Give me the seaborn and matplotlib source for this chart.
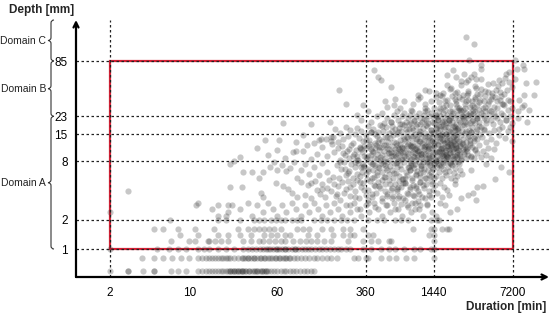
import numpy as np
import pandas as pd
import matplotlib
matplotlib.use("Agg")
import matplotlib.pyplot as plt
from matplotlib.path import Path
from matplotlib.patches import PathPatch, Rectangle
import seaborn as sns

# ---- data (duration [min], depth [mm]) ----
x_ticks = [2, 10, 60, 360, 1440, 7200]
y_ticks = [1, 2, 8, 15, 23, 85]
v_lines = [2, 360, 1440, 7200]
domain_names = ["Domain C", "Domain B", "Domain A"]
domain_edges = [None, 85, 23, 1]   # None = top of the axis
box_duration = (2, 7200)
box_depth = (1, 85)

# quantised rows at small depths: depth -> durations
row_depths = [2.0, 1.6, 1.4, 1.2, 1.0, 0.8, 0.6]
row_durations = [
    [6.7, 18, 21, 28, 37, 41, 46, 53, 58, 64, 70, 80, 90, 96, 125, 145, 165, 190, 217, 245,
     285, 380, 450, 520, 650, 740, 850, 1350, 1550, 1600],
    [4.9, 5.9, 8.0, 11.2, 16.5, 27, 33, 37, 41, 46, 51, 56, 65, 90, 100, 113, 150, 178, 230,
     265, 345, 950, 1350, 1450, 1700, 1900, 1950],
    [8.2, 12, 18, 22, 28, 35, 46, 53, 59, 70, 78, 112, 135, 185, 230, 265, 285, 380, 420,
     1300, 1450],
    [6.9, 10, 11.2, 14.5, 15, 17, 19, 22, 30, 35, 41, 45, 51, 57, 64, 70, 83, 95, 107, 120,
     135, 155, 178, 250, 345, 400, 460, 580, 600, 1450],
    [2, 5.2, 6.6, 8.0, 9.3, 12, 13.5, 15, 18, 21, 25, 30, 33, 36, 39, 42, 45, 48, 52, 55, 58,
     62, 66, 70, 75, 80, 86, 92, 98, 105, 112, 120, 130, 140, 150, 162, 175, 190, 205, 220,
     240, 262, 340, 400, 490, 580, 650, 790, 960, 1100, 1350, 1450, 50, 60, 70, 85],
    [3.8, 4.9, 5.9, 7.0, 8.5, 10, 12, 13, 14, 15, 16, 17, 18, 19, 20, 21, 22, 23, 25, 27, 29,
     31, 33, 35, 37, 40, 43, 46, 50, 54, 58, 62, 67, 72, 78, 84, 90, 97, 105, 115, 125, 135,
     150, 165, 180, 200, 285, 310, 360, 380, 490, 580, 670, 820, 960, 1450,
     30, 33, 37, 42, 47, 52, 57, 63, 70, 76],
    [2, 2.9, 2.9, 3.9, 4.9, 4.9, 6.9, 8.0, 9.3, 12, 13, 14, 15, 16, 17, 18, 19, 20, 21, 22,
     23, 24, 25, 26, 27, 28, 29, 30, 32, 34, 36, 38, 40, 42, 44, 46, 48, 50, 53, 56, 60, 64,
     68, 72, 77, 82, 88, 95, 102, 110, 118, 125, 23, 25, 27, 29, 31, 34, 37, 40, 44, 48],
]

cloud_high = [(2800, 150), (3250, 128), (2950, 88), (7500, 88),
              (8900, 78), (9100, 71), (3750, 78), (3800, 71), (2150, 69), (2650, 63), (3250, 62),
              (1900, 61), (2250, 58), (6300, 63), (5400, 54), (3750, 55), (3100, 58), (2900, 54),
              (7500, 55), (430, 69), (2500, 53), (9400, 51), (11500, 52), (3400, 56), (6700, 66),
              (7800, 71)]

cloud_38_54 = [(1900, 48), (2050, 45), (2500, 48), (2800, 52), (3300, 47), (3750, 44), (4300, 49),
               (4800, 50), (5300, 47), (5800, 50), (6100, 57), (6600, 52), (490, 54), (210, 43),
               (9000, 38), (11000, 38), (600, 46), (1200, 43), (1500, 40), (2300, 41), (2900, 40),
               (3500, 39), (4100, 42), (4700, 40), (5500, 41), (6400, 43), (7000, 46), (1050, 38),
               (1700, 37), (460, 58)]

cloud_27_38 = [(240, 31), (340, 30), (530, 33), (650, 35), (640, 30), (790, 33), (950, 31),
               (1040, 35), (1300, 42), (1100, 36), (1200, 31),
               (1500, 36), (1600, 32), (1750, 29), (1900, 34), (2000, 30), (2100, 37), (2250, 33),
               (2400, 28), (2550, 35), (2700, 31), (2850, 38), (3000, 29), (3150, 33), (3350, 36),
               (3500, 30), (3700, 34), (3900, 28), (4100, 37), (4300, 31), (4600, 35), (4900, 29),
               (5200, 33), (5600, 37), (6000, 30), (6500, 34), (7000, 28), (1450, 28), (1650, 38),
               (2200, 40), (2600, 27), (3200, 27), (4400, 27), (8200, 34), (8600, 29), (10000, 27),
               (9000, 30), (8000, 26), (1800, 27), (2300, 29), (2900, 34), (3600, 32), (4000, 33),
               (5000, 36), (5800, 31), (6800, 33), (1350, 33), (1200, 28), (900, 27), (720, 28),
               (560, 29)]

cloud_19_27 = [(67, 19.5), (120, 19), (175, 20), (300, 24), (330, 21), (380, 26), (400, 20),
               (450, 23), (500, 25), (520, 19.5), (560, 22), (600, 20), (640, 24), (680, 26),
               (700, 21), (720, 19), (760, 23), (790, 25), (820, 20), (850, 22), (880, 24),
               (900, 19.5), (930, 26), (960, 21), (1000, 23), (1030, 19), (1060, 25), (1100, 22),
               (1130, 20), (1170, 24), (1200, 26), (1240, 21), (1280, 19.5), (1320, 23), (1360, 25),
               (1400, 20), (1440, 22), (1480, 24), (1520, 19), (1560, 21), (1600, 26), (1650, 23),
               (1700, 20), (1750, 25), (1800, 22), (1850, 19.5), (1900, 24), (1950, 21), (2000, 26),
               (2050, 23), (2100, 20), (2150, 25), (2200, 22), (2250, 19), (2300, 24), (2400, 21),
               (2500, 26), (2600, 23), (2700, 20), (2800, 25), (2900, 22), (3000, 19.5), (3100, 24),
               (3200, 21), (3350, 26), (3500, 23), (3650, 20), (3800, 25), (4000, 22), (4200, 19.5),
               (4400, 24), (4600, 21), (4900, 25), (5200, 22), (5500, 20), (5900, 24), (6300, 21),
               (6800, 23), (7100, 19.5), (8000, 22), (9500, 20), (1750, 19), (2350, 26.5),
               (1250, 26.5), (1550, 22.5), (2650, 21.5), (3300, 19.5), (4100, 26)]

cloud_12_19 = [(47, 13.2), (140, 13), (145, 13.5), (178, 14),
               (62, 13.0), (88, 12.6), (100, 14.7), (125, 12.2), (160, 13.6), (178, 12.8),
               (185, 14.1), (195, 17.1), (205, 12.4), (215, 15.6), (228, 13.3), (240, 18.0), (252, 14.5),
               (265, 16.8), (278, 12.1), (290, 15.0), (305, 17.5), (318, 13.8), (330, 16.2), (345, 12.7),
               (360, 14.9), (375, 18.4), (390, 13.1), (405, 15.7), (420, 17.0), (435, 12.3), (450, 14.3),
               (465, 16.0), (480, 18.8), (470, 13.5), (440, 15.2),
               (500, 12.9), (515, 16.4), (530, 14.0), (548, 17.9), (565, 12.5), (580, 15.5), (598, 13.7),
               (615, 18.3), (632, 14.8), (650, 16.9), (668, 12.2), (688, 15.1), (706, 17.4), (725, 13.2),
               (745, 16.1), (766, 14.4), (788, 18.6), (810, 12.7), (832, 15.8), (855, 13.9), (878, 17.2),
               (902, 14.6), (926, 12.4), (950, 16.6), (975, 15.0), (1000, 18.1), (1030, 13.4),
               (1060, 16.3), (1090, 12.9), (1120, 14.9), (1150, 17.6), (1180, 13.0), (1210, 15.4),
               (1245, 18.5), (1280, 12.6), (1315, 14.2), (1350, 16.7), (1385, 13.8), (1100, 19.0),
               (870, 19.0),
               (1420, 15.6), (1460, 12.3), (1500, 17.3), (1540, 14.0), (1580, 16.0), (1620, 12.8),
               (1660, 18.4), (1700, 14.7), (1740, 13.1), (1785, 16.9), (1830, 15.2), (1875, 12.5),
               (1920, 17.8), (1965, 13.9), (2010, 15.8), (2060, 12.2), (2110, 18.0), (2160, 14.4),
               (2210, 16.5), (2265, 13.3), (2320, 15.0), (2375, 17.4), (2430, 12.7), (2490, 14.8),
               (2550, 16.2), (2610, 13.6), (2670, 18.7), (2735, 15.4), (2800, 12.4), (2870, 14.2),
               (2940, 16.8), (3010, 13.0), (3080, 15.9), (3160, 17.7), (3240, 12.9), (3320, 14.6),
               (3400, 16.4), (3490, 13.5), (3580, 18.2), (3670, 15.1), (1640, 14.9), (1900, 13.2),
               (2200, 12.0), (2550, 18.9), (3000, 12.1),
               (3850, 14.0), (4000, 17.0), (4200, 12.6), (4400, 15.5), (4650, 13.4), (4900, 16.8),
               (5150, 12.3), (5450, 14.8), (5750, 18.0), (6100, 13.7), (6500, 16.2), (7000, 12.9)]

cloud_8_12 = [(28, 8.7), (40, 10.9), (60, 10.4), (82, 10.0), (87, 10.2), (100, 10.2), (183, 12.0),
              (120, 8.4), (135, 9.5), (150, 11.1), (165, 8.9), (110, 11.7), (70, 8.6), (50, 9.3),
              (190, 9.8),
              (205, 10.8), (215, 8.2), (225, 11.4), (235, 9.2), (245, 10.1), (258, 8.6), (270, 11.7),
              (282, 9.5), (295, 10.4), (308, 8.1), (320, 11.1), (333, 9.8), (346, 8.9), (360, 10.8),
              (373, 8.4), (386, 11.4), (400, 9.2), (414, 10.1), (428, 8.6), (442, 11.7), (456, 9.5),
              (470, 10.4), (484, 8.1), (300, 9.0), (330, 10.6), (360, 8.7), (395, 11.9), (420, 9.9),
              (450, 8.3), (475, 11.2), (255, 10.5), (280, 8.9), (230, 9.6), (350, 11.5), (405, 10.7),
              (495, 11.1), (505, 9.3), (520, 10.2), (535, 8.5), (550, 11.6), (565, 9.7), (580, 10.6),
              (596, 8.2), (612, 11.3), (628, 9.0), (645, 10.0), (662, 8.7), (680, 11.8), (698, 9.4),
              (716, 10.5), (735, 8.3), (754, 11.0), (774, 9.6), (794, 10.9), (815, 8.6), (836, 11.5),
              (858, 9.1), (880, 10.3), (903, 8.4), (927, 11.2), (950, 9.8), (975, 10.7), (1000, 8.1),
              (1025, 11.6), (1050, 9.3), (1078, 10.1), (1105, 8.8), (1133, 11.3), (1162, 9.6),
              (1192, 10.5), (1222, 8.5), (1253, 11.8), (1285, 9.2), (1318, 10.9), (1352, 8.2),
              (1385, 11.0), (520, 8.0), (600, 9.9), (700, 10.8), (780, 8.9), (860, 11.9), (940, 9.0),
              (1020, 10.4), (1110, 9.5), (1200, 11.4), (1300, 8.7), (560, 10.9), (660, 9.2),
              (760, 11.2), (880, 8.0), (990, 9.7), (1160, 8.3), (1270, 10.2), (720, 9.7), (940, 11.5),
              (1420, 9.4), (1450, 11.3), (1480, 8.3), (1515, 10.2), (1550, 9.0), (1585, 11.7),
              (1620, 8.6), (1655, 10.6), (1690, 9.7), (1730, 11.0), (1770, 8.2), (1810, 10.0),
              (1850, 9.3), (1890, 11.5), (1930, 8.8), (1975, 10.4), (2020, 9.6), (2065, 11.2),
              (2110, 8.4), (2160, 10.8), (2210, 9.1), (2260, 11.8), (2310, 8.7), (2365, 10.3),
              (2420, 9.5), (2475, 11.4), (2530, 8.1), (2590, 10.7), (2650, 9.9), (2710, 11.1),
              (2775, 8.5), (2840, 10.1), (2910, 9.2), (2980, 11.6), (1500, 8.0), (1600, 9.8),
              (1700, 10.9), (1850, 8.5), (2000, 11.9), (2150, 10.0), (2300, 9.8), (2450, 8.9),
              (2600, 11.9), (2800, 10.5), (1760, 9.4),
              (3050, 9.0), (3150, 11.2), (3250, 8.5), (3350, 10.4), (3500, 9.6), (3650, 11.6),
              (3800, 8.8), (3950, 10.1), (4150, 9.3), (4350, 11.0), (4600, 8.6), (4900, 10.7)]

cloud_5_8 = [(23, 7.5), (25, 8.0), (30, 6.2), (36, 6.2), (41, 5.3), (45, 6.2), (52, 7.0), (56, 7.9),
             (60, 6.5), (66, 7.3), (72, 6.3), (78, 6.8), (84, 7.9), (90, 5.3), (96, 6.5), (106, 7.4),
             (115, 5.9), (125, 7.0), (140, 5.7), (150, 7.6), (165, 6.1), (185, 5.5),
             (200, 7.2), (210, 5.4), (220, 6.7), (232, 7.9), (244, 5.8), (256, 6.3), (268, 7.5),
             (280, 5.3), (293, 6.9), (306, 7.7), (320, 5.6), (334, 6.2), (348, 7.1), (362, 5.9),
             (377, 6.6), (392, 7.8), (407, 5.4), (423, 6.4), (440, 7.3), (457, 5.7), (474, 6.8),
             (488, 7.6), (215, 7.9), (250, 6.0), (290, 7.8), (330, 6.9), (370, 5.2), (410, 7.4),
             (450, 6.1), (300, 5.9), (340, 7.5), (380, 6.3), (425, 5.5), (465, 7.0), (235, 6.6),
             (500, 6.2), (515, 7.4), (530, 5.5), (546, 6.8), (562, 7.9), (578, 5.9), (595, 7.1),
             (612, 6.4), (630, 5.3), (648, 7.6), (667, 6.0), (686, 6.9), (706, 5.6), (726, 7.3),
             (747, 6.6), (768, 5.2), (790, 7.8), (812, 6.2), (835, 5.8), (858, 7.0), (882, 6.5),
             (906, 7.7), (931, 5.4), (956, 6.8), (982, 7.4), (1008, 5.9), (1035, 6.3), (1063, 7.9),
             (1092, 5.5), (1121, 7.1), (1151, 6.1), (1182, 6.7), (1214, 5.3), (1246, 7.5),
             (1279, 6.4), (1313, 5.8), (1348, 7.2), (1383, 6.9), (560, 6.5), (680, 7.8), (800, 5.4),
             (950, 7.3), (1100, 6.0), (1250, 7.9), (1350, 5.6),
             (1420, 6.6), (1460, 7.7), (1500, 5.6), (1545, 6.9), (1590, 6.2), (1640, 7.4),
             (1690, 5.4), (1740, 6.6), (1795, 7.9), (1850, 5.8), (1910, 7.0), (1970, 6.3),
             (2030, 5.3), (2100, 7.3), (2170, 6.0), (2240, 6.8), (2320, 5.6), (2400, 7.5),
             (2480, 6.4), (2580, 5.9), (1450, 5.3), (1600, 7.2), (1800, 6.1), (2000, 7.8),
             (2200, 5.1), (3100, 6.4), (5600, 6.9), (6600, 6.2), (4200, 7.5)]

cloud_3_5 = [(2.9, 3.9), (23, 4.3), (29, 4.3), (43, 3.8), (45, 3.4), (58, 4.8), (67, 4.4), (75, 4.1),
             (80, 3.8), (90, 3.4), (96, 4.9), (105, 3.6), (112, 4.5), (120, 3.3), (128, 5.0),
             (135, 4.0), (142, 3.7), (150, 4.7), (158, 3.4), (165, 4.2), (172, 5.1), (180, 3.9),
             (188, 4.6), (196, 3.5), (205, 4.4), (214, 3.2), (223, 4.9), (233, 3.8), (243, 4.1),
             (254, 5.0), (265, 3.5), (277, 4.6), (290, 3.9), (303, 5.1), (316, 3.3), (330, 4.3),
             (345, 4.8), (360, 3.6), (376, 4.0), (393, 5.0), (410, 3.4), (428, 4.5), (447, 3.8),
             (466, 4.9), (486, 4.2), (507, 3.3), (530, 4.7), (553, 3.7), (577, 5.1), (602, 4.0),
             (628, 3.5), (655, 4.6), (683, 3.9), (713, 5.0), (744, 4.3), (776, 3.3), (810, 4.8),
             (845, 3.7), (882, 4.1), (920, 5.1), (960, 3.5), (1000, 4.4), (1045, 3.9), (1090, 4.9),
             (1140, 3.4), (1190, 4.2), (1240, 4.7), (1300, 3.6), (1360, 5.0), (1420, 4.0),
             (1480, 4.5), (1550, 3.8), (1620, 4.8), (1700, 3.4), (1780, 4.3), (1870, 4.0),
             (1960, 3.6), (2900, 3.6), (3200, 3.8), (3400, 3.2), (3500, 4.3), (3900, 4.4),
             (5000, 5.2), (2200, 4.6), (2500, 3.3), (150, 4.1), (200, 3.7), (260, 4.3), (320, 4.9),
             (380, 3.2), (440, 4.4), (500, 5.1), (560, 3.5), (620, 4.2), (700, 3.3), (120, 4.8)]

cloud_2_3 = [(2.0, 2.4), (11.5, 2.8), (12, 3.0), (16, 2.6), (18, 2.8), (22, 2.8), (24, 2.8),
             (18, 2.2), (21, 2.2), (22, 2.4), (28, 2.6), (33, 3.0), (36, 2.2), (40, 2.8), (45, 2.4),
             (50, 3.0), (55, 2.6), (60, 2.2), (66, 2.8), (72, 2.4), (80, 3.0), (88, 2.6), (96, 2.2),
             (105, 2.8), (115, 2.4), (125, 3.0), (136, 2.6), (148, 2.2), (160, 2.8), (175, 2.4),
             (190, 3.0), (205, 2.6), (222, 2.2), (240, 2.8), (260, 2.4), (282, 3.0), (305, 2.6),
             (330, 2.2), (360, 2.8), (390, 2.4), (425, 3.0), (460, 2.6), (500, 2.2), (545, 2.8),
             (590, 2.4), (640, 3.0), (700, 2.6), (760, 2.2), (830, 2.8), (900, 2.4), (980, 3.0),
             (1070, 2.6), (1160, 2.2), (1260, 2.8), (1380, 2.4), (1500, 2.2), (2000, 2.4),
             (2300, 2.6), (1800, 2.8), (1650, 3.0)]

# the dark core of the cloud (extra points on top of the bands above)
cloud_core = [(610, 9.1), (640, 12.4), (670, 7.6), (700, 15.8), (730, 10.2), (760, 8.3), (790, 13.5),
              (820, 17.2), (850, 9.7), (880, 11.8), (910, 7.2), (940, 14.6), (970, 20.5), (1000, 10.9),
              (1030, 8.8), (1060, 12.9), (1090, 16.4), (1120, 9.4), (1150, 7.9), (1180, 11.2),
              (1210, 14.0), (1240, 18.6), (1270, 10.5), (1300, 8.5), (1330, 13.1), (1360, 15.5),
              (1390, 9.0), (1420, 11.6), (1450, 7.4), (1480, 12.7), (1510, 16.9), (1540, 10.0),
              (1570, 21.0), (1600, 8.2), (1630, 13.8), (1660, 11.0), (1690, 9.3), (1720, 15.0),
              (1750, 7.7), (1780, 12.2), (1810, 17.8), (1840, 10.3), (1870, 8.9), (1900, 14.3),
              (1930, 11.4), (1960, 19.5), (1990, 9.6), (2020, 13.0), (2050, 7.5), (2080, 16.0),
              (2110, 10.7), (2140, 12.5), (2170, 8.6), (2200, 14.9), (2230, 18.0), (2260, 11.1),
              (2290, 9.2), (2320, 13.4), (2350, 7.8), (2380, 16.6), (2410, 10.4), (2440, 12.0),
              (2470, 20.0), (2500, 8.4),
              (620, 16.2), (655, 10.6), (690, 8.1), (725, 12.0), (760, 19.0), (795, 9.9), (830, 14.1),
              (865, 7.0), (900, 11.5), (935, 17.5), (970, 8.7), (1005, 13.3), (1040, 10.1),
              (1075, 15.2), (1110, 7.3), (1145, 12.3), (1180, 21.5), (1215, 9.5), (1250, 14.4),
              (1285, 11.3), (1320, 7.8), (1355, 16.8), (1390, 12.8), (1425, 9.9), (1460, 19.8),
              (1495, 8.0), (1530, 14.8), (1565, 11.9), (1600, 10.2), (1635, 17.0), (1670, 7.1),
              (1705, 13.6), (1740, 9.1), (1775, 20.8), (1810, 12.1), (1845, 15.3), (1880, 8.7),
              (1915, 10.9), (1950, 16.3), (1985, 7.6), (2020, 22.0), (2055, 11.7), (2090, 9.0),
              (2125, 14.2), (2160, 12.9), (2195, 18.2), (2230, 7.9), (2265, 10.8),
              (300, 8.2), (320, 11.0), (340, 6.9), (360, 13.2), (380, 9.0), (400, 16.0), (420, 7.5),
              (440, 10.8), (460, 12.6), (480, 8.7), (500, 18.5), (520, 11.6), (540, 7.3), (560, 14.2),
              (580, 9.6), (600, 20.0), (2550, 12.2), (2650, 9.4), (2750, 16.3), (2850, 11.0),
              (2950, 14.5), (3050, 8.8), (3150, 20.5), (3250, 13.9), (3350, 10.5), (3450, 17.1),
              (2600, 22.5), (2900, 24.0), (3200, 25.0), (3500, 22.0),
              (520, 5.5), (640, 6.0), (760, 5.2), (880, 6.4), (1000, 5.7), (1120, 6.8), (1240, 5.3),
              (1360, 6.1), (800, 4.8), (950, 4.5), (1100, 4.9), (700, 4.3)]

# upper-right part of the cloud (long, deeper events)
cloud_upper = [(1500, 24), (1650, 28), (1800, 33), (1950, 21), (2100, 26), (2250, 31), (2400, 36),
               (2550, 23), (2700, 28), (2850, 19), (3000, 25), (3150, 30), (3300, 35), (3450, 22),
               (3600, 27), (3750, 18), (3900, 24), (4050, 29), (4200, 21), (4400, 33), (4600, 26),
               (4800, 19), (5000, 23), (5200, 28), (5400, 17), (5600, 25), (5900, 31), (6200, 21),
               (6500, 27), (6800, 18), (1600, 18.5), (1750, 40), (2000, 44), (2300, 17), (2600, 38),
               (2900, 42), (3100, 16), (3400, 45), (3700, 39), (4000, 16.5), (4300, 41), (4700, 37),
               (5100, 43), (5500, 34), (6000, 39), (2200, 35), (2750, 33), (3250, 29), (1850, 30),
               (2450, 27)]

# lower part of the core (shallow, a few hours)
cloud_lower = [(260, 2.8), (290, 3.4), (320, 2.6), (350, 4.0), (380, 3.0), (410, 3.7), (440, 2.7),
               (470, 4.4), (500, 3.1), (530, 3.9), (560, 2.8), (590, 4.6), (620, 3.3), (650, 2.6),
               (680, 4.1), (710, 3.5), (740, 2.9), (770, 4.8), (800, 3.2), (830, 3.8), (860, 2.7),
               (890, 4.3), (920, 3.0), (950, 3.6), (980, 2.6), (1010, 4.2), (1040, 3.1), (1070, 3.7),
               (1100, 2.8), (1150, 4.5), (1200, 3.3), (1250, 2.9), (1300, 3.9), (1350, 3.4),
               (1400, 4.6)]

# ---- table ----
pts = []
for d, durs in zip(row_depths, row_durations):
    pts += [(t, d) for t in durs]
for band in [cloud_high, cloud_38_54, cloud_27_38, cloud_19_27, cloud_12_19, cloud_8_12,
             cloud_5_8, cloud_3_5, cloud_2_3, cloud_core, cloud_upper, cloud_lower]:
    pts += band
df = pd.DataFrame(pts, columns=["duration", "depth"])

# ---- figure ----
sns.set_style("white")
plt.rcParams["font.family"] = ["Liberation Sans Narrow", "Liberation Sans", "DejaVu Sans"]

W, H = 550, 319
fig = plt.figure(figsize=(W / 100, H / 100), dpi=100)
ax = fig.add_axes([76 / W, (H - 277) / H, (549 - 76) / W, (277 - 20) / H])
ax.set_xscale("log")
ax.set_yscale("log")
ax.set_xlim(1.0, 15000)
ax.set_ylim(0.516, 224)

red = "#d62035"
ax.add_patch(Rectangle((box_duration[0], box_depth[0]), box_duration[1] - box_duration[0],
                       box_depth[1] - box_depth[0], fill=False, edgecolor=red, lw=1.6, zorder=1))

sns.scatterplot(data=df, x="duration", y="depth", ax=ax, color="#2a2a2a", alpha=0.26,
                s=20, linewidth=0, zorder=2, legend=False)

for y in y_ticks:
    ax.axhline(y, color="#222222", lw=0.9, ls=(0, (2, 2)), zorder=3)
for x in v_lines:
    ax.axvline(x, color="#222222", lw=0.9, ls=(0, (2, 2)), zorder=3)

for s in ax.spines.values():
    s.set_visible(False)
ax.annotate("", xy=(0, 1.0), xytext=(0, 0), xycoords="axes fraction",
            arrowprops=dict(arrowstyle="->", lw=1.6, color="black", shrinkA=0, shrinkB=0,
                            mutation_scale=9))
ax.annotate("", xy=(1.0, 0), xytext=(0, 0), xycoords="axes fraction",
            arrowprops=dict(arrowstyle="->", lw=1.6, color="black", shrinkA=0, shrinkB=0,
                            mutation_scale=9))

ax.set_xticks(x_ticks)
ax.set_xticklabels([str(t) for t in x_ticks])
ax.set_yticks(y_ticks)
ax.set_yticklabels([str(t) for t in y_ticks])
ax.minorticks_off()
ax.tick_params(axis="x", length=5, width=1.3, direction="inout", pad=5, labelsize=8.5, colors="black")
ax.tick_params(axis="y", length=0, pad=6, labelsize=8.5, colors="black")
ax.set_xlabel("")
ax.set_ylabel("")

# overlay in pixel units for the titles and braces
ov = fig.add_axes([0, 0, 1, 1])
ov.set_xlim(0, W)
ov.set_ylim(H, 0)
ov.axis("off")
ov.patch.set_alpha(0)

ov.text(42, 10, "Depth [mm]", ha="center", va="center", fontsize=8.5, weight="bold")
ov.text(546, 307, "Duration [min]", ha="right", va="center", fontsize=8.5, weight="bold")

fig.canvas.draw()


def y_pix(v):
    if v is None:
        return 20.0
    return H - ax.transData.transform((1, v))[1]


def brace(y0, y1, xb=51, w=3):
    ym = (y0 + y1) / 2
    verts = [(xb + w, y0), (xb, y0), (xb, y0 + w),
             (xb, ym - w), (xb, ym), (xb - w, ym),
             (xb, ym), (xb, ym + w),
             (xb, y1 - w), (xb, y1), (xb + w, y1)]
    codes = [Path.MOVETO, Path.CURVE3, Path.CURVE3,
             Path.LINETO, Path.CURVE3, Path.CURVE3,
             Path.CURVE3, Path.CURVE3,
             Path.LINETO, Path.CURVE3, Path.CURVE3]
    ov.add_patch(PathPatch(Path(verts, codes), fill=False, edgecolor="#333333", lw=0.8))
    return ym


for name, top, bot in zip(domain_names, domain_edges[:-1], domain_edges[1:]):
    ym = brace(y_pix(top), y_pix(bot))
    ov.text(46, ym, name, ha="right", va="center", fontsize=7.5, color="#222222")

fig.savefig("out.png", dpi=100)
